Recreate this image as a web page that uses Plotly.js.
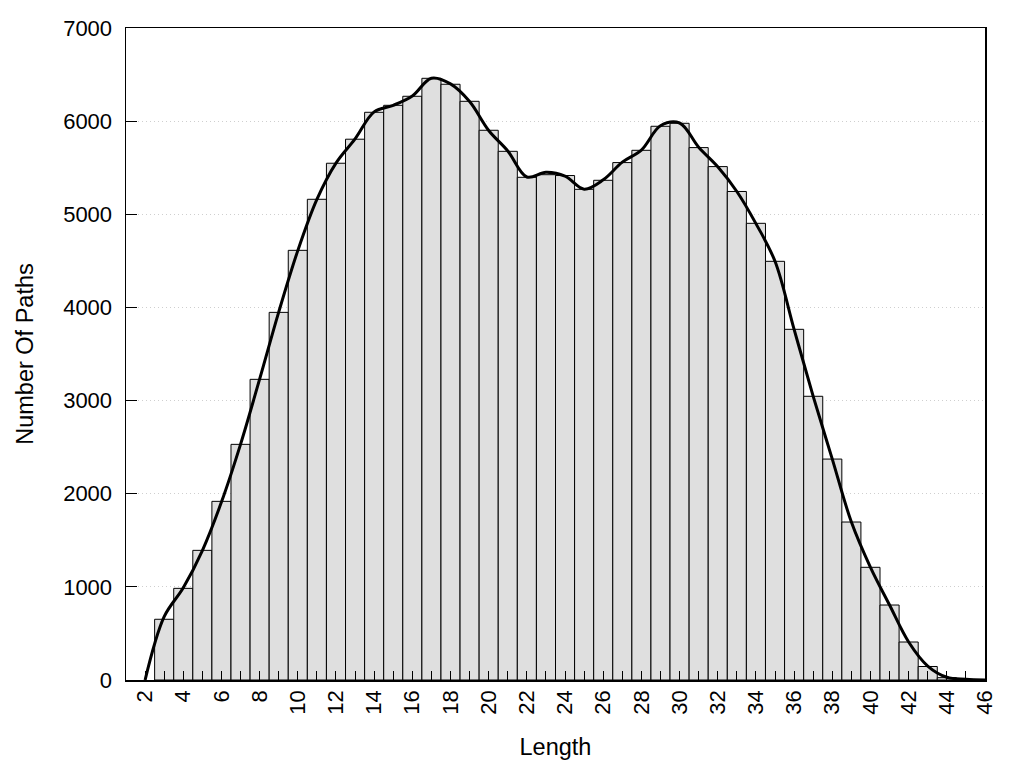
<!DOCTYPE html>
<html>
<head>
<meta charset="utf-8">
<script src="https://cdn.plot.ly/plotly-3.0.1.min.js"></script>
<style>html,body{margin:0;padding:0;background:#fff;}#chart{width:1024px;height:768px;}</style>
</head>
<body>
<div id="chart"></div>
<script>
const lengths = [3,4,5,6,7,8,9,10,11,12,13,14,15,16,17,18,19,20,21,22,23,24,25,26,27,28,29,30,31,32,33,34,35,36,37,38,39,40,41,42,43,44,45,46];
const pathCounts = [652,984,1392,1918,2530,3228,3947,4613,5161,5548,5806,6095,6170,6267,6460,6396,6213,5902,5676,5397,5425,5416,5268,5365,5555,5687,5945,5977,5716,5512,5245,4903,4495,3765,3046,2372,1696,1210,805,408,145,25,6,2];
const curveX = [2,3,4,5,6,7,8,9,10,11,12,13,14,15,16,17,18,19,20,21,22,23,24,25,26,27,28,29,30,31,32,33,34,35,36,37,38,39,40,41,42,43,44,45,46];
const curveY = [0,680,990,1390,1910,2530,3230,3950,4610,5160,5550,5810,6100,6170,6270,6460,6400,6210,5900,5680,5400,5450,5410,5270,5370,5560,5690,5950,5980,5720,5510,5245,4900,4495,3765,3046,2372,1696,1210,805,408,150,30,8,0];
const tickVals = [2,3,4,5,6,7,8,9,10,11,12,13,14,15,16,17,18,19,20,21,22,23,24,25,26,27,28,29,30,31,32,33,34,35,36,37,38,39,40,41,42,43,44,45,46];
const tickText = tickVals.map(v => v % 2 === 0 ? String(v) : '');

const font = 'Liberation Sans, Arial, sans-serif';
const data = [
  {
    type: 'bar', x: lengths, y: pathCounts, width: 1,
    marker: {color: '#dfdfdf', line: {color: '#000', width: 1}},
    hoverinfo: 'x+y'
  },
  {
    type: 'scatter', mode: 'lines', x: curveX, y: curveY,
    line: {color: '#000', width: 3, shape: 'spline', smoothing: 1}
  }
];
const layout = {
  width: 1024, height: 768,
  margin: {l: 126, r: 39, t: 28, b: 88},
  paper_bgcolor: '#fff', plot_bgcolor: '#fff',
  showlegend: false,
  font: {family: font, color: '#000', size: 22},
  xaxis: {
    range: [1, 46], autorange: false,
    tickmode: 'array', tickvals: tickVals, ticktext: tickText,
    tickangle: -90, ticks: 'inside', ticklen: 9, tickcolor: '#000', tickwidth: 1,
    showline: true, linecolor: '#000', linewidth: 1.5, mirror: true,
    showgrid: false, zeroline: false,
    tickfont: {family: font, size: 22, color: '#000'},
    title: {text: 'Length', font: {family: font, size: 23.5, color: '#000'}, standoff: 25},
    automargin: false
  },
  yaxis: {
    range: [0, 7000], autorange: false, dtick: 1000, tick0: 0,
    ticks: 'inside', ticklen: 11, tickcolor: '#000', tickwidth: 1,
    showline: true, linecolor: '#000', linewidth: 1.5, mirror: true,
    showgrid: true, gridcolor: '#cfcfcf', griddash: '1px,3px', gridwidth: 1,
    zeroline: false, ticklabelstandoff: 8,
    tickfont: {family: font, size: 22, color: '#000'},
    title: {text: 'Number Of Paths', font: {family: font, size: 23.5, color: '#000'}, standoff: 23},
    automargin: false
  },
  bargap: 0
};
Plotly.newPlot('chart', data, layout, {displayModeBar: false, staticPlot: true});
</script>
</body>
</html>
